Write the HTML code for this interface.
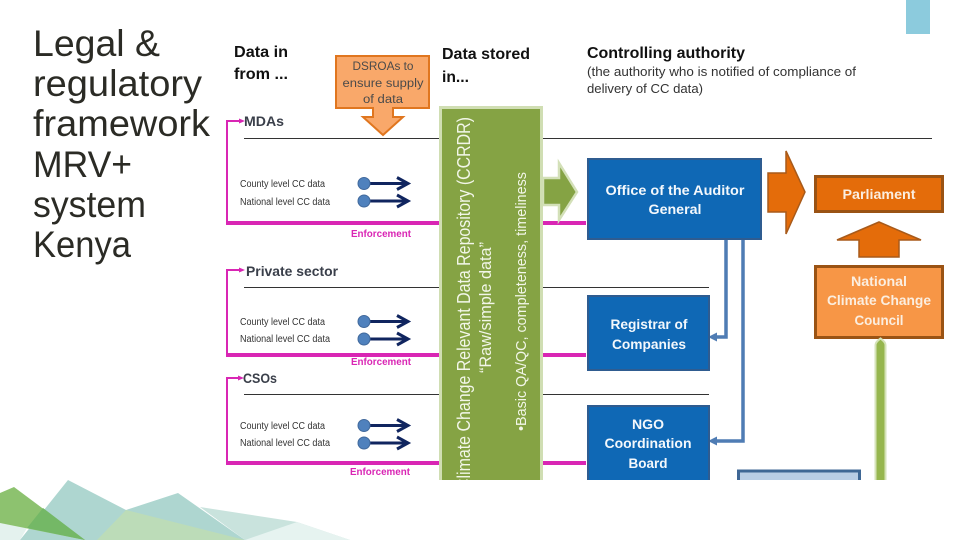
<!DOCTYPE html>
<html>
<head>
<meta charset="utf-8">
<style>
html,body{margin:0;padding:0;background:#fff;width:960px;height:540px;overflow:hidden}
svg{display:block}
text{font-family:"Liberation Sans",sans-serif}
</style>
</head>
<body>
<svg width="960" height="540" viewBox="0 0 960 540" xmlns="http://www.w3.org/2000/svg">
<defs>
<clipPath id="c"><rect x="0" y="0" width="960" height="480"/></clipPath>
</defs>
<rect width="960" height="540" fill="#fff"/>
<rect x="906" y="0" width="24" height="34" fill="#8ccbdd"/>

<!-- bottom decoration -->
<polygon points="20,540 68,480 126,510 178,493 245,540" fill="#aed6d0"/>
<polygon points="200,507 297,522 350,540 245,540" fill="#c9e3dd"/>
<polygon points="245,540 297,522 350,540" fill="#e6f3f0"/>
<polygon points="126,510 245,540 97,540" fill="#bcdcb8"/>
<polygon points="0,523 27,528 20,540 0,540" fill="#e4f2ee"/>
<polygon points="0,493 14,487 85,540 0,523" fill="#8dc26f"/>
<polygon points="43,508 85,540 27,528" fill="#74b866"/>

<!-- title -->
<g fill="#2b2b25" font-size="37">
<text x="33" y="56" textLength="127" lengthAdjust="spacingAndGlyphs">Legal &amp;</text>
<text x="33" y="96" textLength="169" lengthAdjust="spacingAndGlyphs">regulatory</text>
<text x="33" y="136" textLength="177" lengthAdjust="spacingAndGlyphs">framework</text>
<text x="33" y="177" textLength="99" lengthAdjust="spacingAndGlyphs">MRV+</text>
<text x="33" y="217" textLength="113" lengthAdjust="spacingAndGlyphs">system</text>
<text x="33" y="257" textLength="98" lengthAdjust="spacingAndGlyphs">Kenya</text>
</g>

<g clip-path="url(#c)">
<!-- header labels -->
<g font-weight="bold" font-size="16" fill="#111">
<text x="234" y="57" textLength="54" lengthAdjust="spacingAndGlyphs">Data in</text>
<text x="234" y="79" textLength="54" lengthAdjust="spacingAndGlyphs">from ...</text>
<text x="442" y="59" textLength="88" lengthAdjust="spacingAndGlyphs">Data stored</text>
<text x="442" y="82" textLength="27" lengthAdjust="spacingAndGlyphs">in...</text>
<text x="587" y="58" textLength="158" lengthAdjust="spacingAndGlyphs">Controlling authority</text>
</g>
<g font-size="12.5" fill="#333">
<text x="587" y="76" textLength="269" lengthAdjust="spacingAndGlyphs">(the authority who is notified of compliance of</text>
<text x="587" y="93" textLength="116" lengthAdjust="spacingAndGlyphs">delivery of  CC data)</text>
</g>

<!-- horizontal rules -->
<g stroke="#333" stroke-width="1">
<line x1="244" y1="138.500" x2="932" y2="138.500"/>
<line x1="244" y1="287.500" x2="709" y2="287.500"/>
<line x1="244" y1="394.500" x2="709" y2="394.500"/>
</g>

<!-- magenta loops -->
<g fill="none" stroke="#d926b4" stroke-width="2">
<polyline points="240,121 227,121 227,223"/>
<polyline points="240,270 227,270 227,355"/>
<polyline points="240,378 227,378 227,463"/>
</g>
<g fill="#d926b4">
<polygon points="239,118.500 245,121 239,123.500"/>
<polygon points="239,267.500 245,270 239,272.500"/>
<polygon points="238,375.500 244,378 238,380.500"/>
<rect x="226" y="221" width="360" height="4"/>
<rect x="226" y="353" width="360" height="4"/>
<rect x="226" y="461" width="360" height="4"/>
</g>
<g fill="#d926b4" font-size="10.500" font-weight="bold">
<text x="351" y="237" textLength="60" lengthAdjust="spacingAndGlyphs">Enforcement</text>
<text x="351" y="365" textLength="60" lengthAdjust="spacingAndGlyphs">Enforcement</text>
<text x="350" y="475" textLength="60" lengthAdjust="spacingAndGlyphs">Enforcement</text>
</g>

<!-- sector labels -->
<g font-weight="bold" fill="#3a3f4a" font-size="14">
<text x="244" y="126" textLength="40" lengthAdjust="spacingAndGlyphs">MDAs</text>
<text x="246" y="276" textLength="92" lengthAdjust="spacingAndGlyphs">Private sector</text>
<text x="243" y="383" textLength="34" lengthAdjust="spacingAndGlyphs">CSOs</text>
</g>
<g font-size="10" fill="#333">
<text x="240" y="187" textLength="85" lengthAdjust="spacingAndGlyphs">County level CC data</text>
<text x="240" y="205" textLength="90" lengthAdjust="spacingAndGlyphs">National level CC data</text>
<text x="240" y="325" textLength="85" lengthAdjust="spacingAndGlyphs">County level CC data</text>
<text x="240" y="342" textLength="90" lengthAdjust="spacingAndGlyphs">National level CC data</text>
<text x="240" y="429" textLength="85" lengthAdjust="spacingAndGlyphs">County level CC data</text>
<text x="240" y="446" textLength="90" lengthAdjust="spacingAndGlyphs">National level CC data</text>
</g>

<!-- dot arrows -->
<g fill="none" stroke="#10255f" stroke-width="3">
<path d="M369 183.500H408M397 177.500L408 183.500L397 189.500"/>
<path d="M369 201H408M397 195L408 201L397 207"/>
<path d="M369 321.500H408M397 315.500L408 321.500L397 327.500"/>
<path d="M369 339H408M397 333L408 339L397 345"/>
<path d="M369 425.500H408M397 419.500L408 425.500L397 431.500"/>
<path d="M369 443H408M397 437L408 443L397 449"/>
</g>
<g fill="#4f81bd" stroke="#41699c" stroke-width="1">
<circle cx="364" cy="183.500" r="6"/><circle cx="364" cy="201" r="6"/>
<circle cx="364" cy="321.500" r="6"/><circle cx="364" cy="339" r="6"/>
<circle cx="364" cy="425.500" r="6"/><circle cx="364" cy="443" r="6"/>
</g>

<!-- DSROAs callout -->
<polygon points="336,56 429,56 429,108 393,108 393,117 403,117 383,135 363,117 373,117 373,108 336,108" fill="#f9a86a" stroke="#e0761f" stroke-width="2"/>
<g font-size="11.500" fill="#4a4a4a" text-anchor="middle">
<text x="383" y="70" textLength="61" lengthAdjust="spacingAndGlyphs">DSROAs to</text>
<text x="383" y="87" textLength="81" lengthAdjust="spacingAndGlyphs">ensure supply</text>
<text x="383" y="103" textLength="40" lengthAdjust="spacingAndGlyphs">of data</text>
</g>

<!-- green arrow from repository -->
<polygon points="543,178 559,178 559,163 577,192 559,220 559,205 543,205" fill="#85a344" stroke="#d3e0b8" stroke-width="2.500"/>

<!-- green repository -->
<rect x="440.500" y="107.500" width="101" height="380" fill="#85a344" stroke="#d0deb3" stroke-width="3"/>
<g fill="#f2f6e8">
<text transform="translate(470,490) rotate(-90)" font-size="18.500" textLength="373" lengthAdjust="spacingAndGlyphs">Climate Change Relevant Data Repository (CCRDR)</text>
<text transform="translate(491,373) rotate(-90)" font-size="16.500" textLength="131" lengthAdjust="spacingAndGlyphs">“Raw/simple data”</text>
<text transform="translate(526,431) rotate(-90)" font-size="15" textLength="259" lengthAdjust="spacingAndGlyphs">•Basic QA/QC, completeness, timeliness</text>
</g>

<!-- blue connectors -->
<g fill="none" stroke="#4f7cb4" stroke-width="3.500">
<polyline points="726,238 726,337 713,337"/>
<polyline points="743,238 743,441 713,441"/>
</g>
<g fill="#4f7cb4">
<polygon points="708,337 717,332.500 717,341.500"/>
<polygon points="708,441 717,436.500 717,445.500"/>
</g>

<!-- blue boxes -->
<g fill="#0f68b5" stroke="#2f5c90" stroke-width="2">
<rect x="588" y="159" width="173" height="80"/>
<rect x="588" y="296" width="121" height="74"/>
<rect x="588" y="406" width="121" height="90"/>
</g>
<g fill="#f4f8fc" font-weight="bold" font-size="14" text-anchor="middle">
<text x="675" y="195" textLength="139" lengthAdjust="spacingAndGlyphs">Office of the Auditor</text>
<text x="675" y="214" textLength="53" lengthAdjust="spacingAndGlyphs">General</text>
<text x="649" y="329" textLength="77" lengthAdjust="spacingAndGlyphs">Registrar of</text>
<text x="649" y="349" textLength="74" lengthAdjust="spacingAndGlyphs">Companies</text>
<text x="648" y="429" textLength="32" lengthAdjust="spacingAndGlyphs">NGO</text>
<text x="648" y="448" textLength="87" lengthAdjust="spacingAndGlyphs">Coordination</text>
<text x="648" y="468" textLength="39" lengthAdjust="spacingAndGlyphs">Board</text>
</g>

<!-- orange arrows and boxes -->
<polygon points="768,173 786,173 786,151 805,192 786,234 786,212 768,212" fill="#e46c0a" stroke="#a85a1a" stroke-width="1.500"/>
<rect x="815.500" y="176.500" width="127" height="35" fill="#e46c0a" stroke="#9a5314" stroke-width="3"/>
<text x="879" y="199" text-anchor="middle" fill="#fbeee0" font-weight="bold" font-size="13.500" textLength="73" lengthAdjust="spacingAndGlyphs">Parliament</text>
<polygon points="837,240 879,222 921,240 899,240 899,257 859,257 859,240" fill="#e46c0a" stroke="#a85a1a" stroke-width="1.500"/>
<rect x="815.500" y="266.500" width="127" height="71" fill="#f79646" stroke="#9a5314" stroke-width="3"/>
<g fill="#fbeee0" font-weight="bold" font-size="14" text-anchor="middle">
<text x="879" y="286" textLength="56" lengthAdjust="spacingAndGlyphs">National</text>
<text x="879" y="305" textLength="104" lengthAdjust="spacingAndGlyphs">Climate Change</text>
<text x="879" y="325" textLength="49" lengthAdjust="spacingAndGlyphs">Council</text>
</g>

<!-- green vertical arrow -->
<path d="M875.500 490V345Q875.500 342 880.500 338.500Q885.500 342 885.500 345V490Z" fill="#96b64e" stroke="#d5e3b8" stroke-width="2"/>

<!-- pale blue box -->
<rect x="738.500" y="471" width="121" height="30" fill="#b9cde5" stroke="#3f6795" stroke-width="3"/>
</g>
</svg>
</body>
</html>
